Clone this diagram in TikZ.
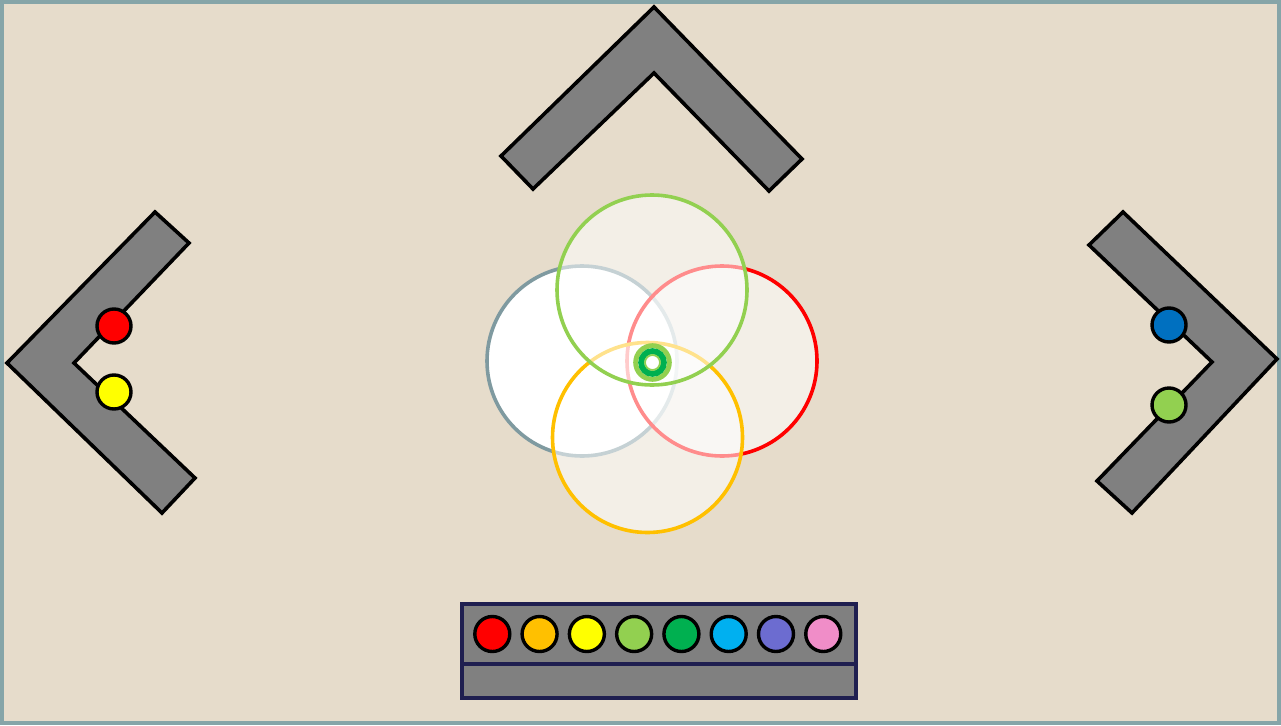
\documentclass[tikz,border=0pt]{standalone}
\begin{document}
\begin{tikzpicture}[x=1pt,y=-1pt,
  chev/.style={fill=chevgray,draw=black,line width=3.6pt,line join=miter},
  dot/.style={circle,draw=black,line width=3.4pt,minimum size=34pt,inner sep=0pt},
  bigc/.style={circle,line width=3.6pt,minimum size=190pt,inner sep=0pt},
  lens/.style={bigc,fill=white,fill opacity=0.55}]
\definecolor{bg}{HTML}{E6DCCB}
\definecolor{frame}{HTML}{86A5A8}
\definecolor{chevgray}{HTML}{808080}
\definecolor{navy}{HTML}{1F1F50}
\definecolor{cred}{HTML}{FF0000}
\definecolor{corange}{HTML}{FFC000}
\definecolor{cyellow}{HTML}{FFFF00}
\definecolor{clgreen}{HTML}{92D050}
\definecolor{cgreen}{HTML}{00B050}
\definecolor{ccyan}{HTML}{00B0F0}
\definecolor{cpurple}{HTML}{6C6CD0}
\definecolor{cpink}{HTML}{F08DC8}
\definecolor{cblue}{HTML}{0070C0}
\definecolor{cslate}{HTML}{7F9AA0}
\useasboundingbox (0,0) rectangle (1281,725);
% background and frame
\fill[bg] (0,0) rectangle (1281,725);
\draw[frame,line width=4.5pt] (2,2) rectangle (1279,723);
% chevrons
\draw[chev] (654,7) -- (802,159) -- (769,191) -- (654,73) -- (533,189) -- (501,156) -- cycle;
\draw[chev] (7,363) -- (155,212) -- (189,243) -- (74,363) -- (195,478) -- (162,513) -- cycle;
\draw[chev] (1123,212) -- (1277,359) -- (1132,513) -- (1097,481) -- (1212,362) -- (1089,245) -- cycle;
% dots on side chevrons
\node[dot,fill=cred] (lred) at (114,326) {};
\node[dot,fill=cyellow] (lyellow) at (114,392) {};
\node[dot,fill=cblue] (rblue) at (1169,325) {};
\node[dot,fill=clgreen] (rgreen) at (1169,405) {};
% central circles
\node[bigc,draw=cslate,fill=white] (cgray) at (582,361) {};
\node[lens,draw=cred] (cr) at (722,361) {};
\node[lens,draw=corange] (cy) at (647.5,437.5) {};
\node[lens,draw=clgreen] (cg) at (652,290) {};
% centre ring
\node[circle,draw=clgreen,line width=5pt,minimum size=33.6pt,inner sep=0pt] (ringo) at (652.5,362.5) {};
\node[circle,draw=cgreen,line width=6pt,minimum size=22.6pt,inner sep=0pt] (ringm) at (652.5,362.5) {};
\node[circle,draw=clgreen,fill=white,line width=1.8pt,minimum size=15pt,inner sep=0pt] (ringi) at (652.5,362.5) {};
% bottom bar
\draw[navy,fill=chevgray,line width=3.4pt] (462,604) rectangle (856,698);
\draw[navy,line width=3.4pt] (462,664) -- (856,664);
\foreach \c [count=\i from 0] in {cred,corange,cyellow,clgreen,cgreen,ccyan,cpurple,cpink}{
  \node[dot,fill=\c,minimum size=35pt] (b\i) at (492.3+47.28*\i,634) {};
}
\end{tikzpicture}
\end{document}
